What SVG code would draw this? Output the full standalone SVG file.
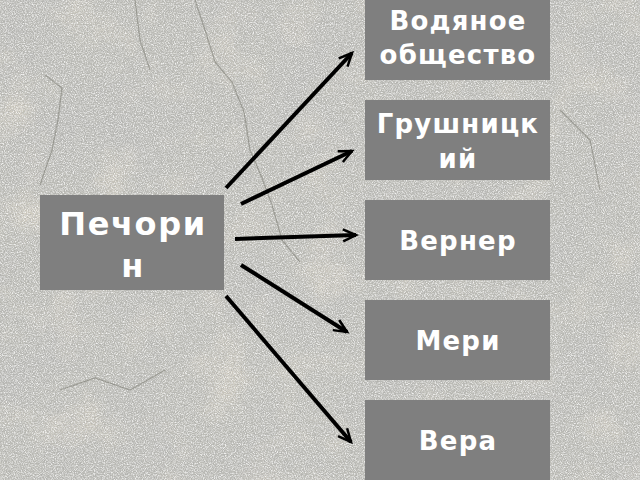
<svg xmlns="http://www.w3.org/2000/svg" width="640" height="480" viewBox="0 0 640 480">
  <defs>
    <filter id="speckle" x="0" y="0" width="100%" height="100%">
      <feTurbulence type="fractalNoise" baseFrequency="0.9" numOctaves="2" seed="7"/>
      <feColorMatrix type="matrix" values="0 0 0 0 1  0 0 0 0 1  0 0 0 0 1  2.6 0 0 0 -1.0"/>
    </filter>
    <filter id="darkspeckle" x="0" y="0" width="100%" height="100%">
      <feTurbulence type="fractalNoise" baseFrequency="0.7" numOctaves="2" seed="21"/>
      <feColorMatrix type="matrix" values="0 0 0 0 0.38  0 0 0 0 0.38  0 0 0 0 0.37  0 2.4 0 0 -1.0"/>
    </filter>
    <filter id="mottle" x="0" y="0" width="100%" height="100%">
      <feTurbulence type="fractalNoise" baseFrequency="0.012" numOctaves="4" seed="11"/>
      <feColorMatrix type="matrix" values="0 0 0 0 0.48  0 0 0 0 0.48  0 0 0 0 0.47  1.3 0 0 0 -0.55"/>
    </filter>
    <filter id="warm" x="0" y="0" width="100%" height="100%">
      <feTurbulence type="fractalNoise" baseFrequency="0.02" numOctaves="3" seed="4"/>
      <feColorMatrix type="matrix" values="0 0 0 0 0.80  0 0 0 0 0.73  0 0 0 0 0.60  0 1.1 0 0 -0.55"/>
    </filter>
    <marker id="arrow" markerUnits="userSpaceOnUse" markerWidth="18" markerHeight="18" refX="14" refY="7" orient="auto" viewBox="0 0 18 14">
      <path d="M1,1 L14,7 L1,13" fill="none" stroke="#000" stroke-width="2.5" stroke-linejoin="miter"/>
    </marker>
    <style>
      .box { fill: #7f7f7f; }
      .lbl { fill: #ffffff; font-family: "DejaVu Sans", "Liberation Sans", sans-serif; font-weight: bold; font-size: 26px; letter-spacing: 1.2px; text-anchor: middle; }
      .big { font-size: 32px; letter-spacing: 1.6px; }
      .conn { stroke: #000; stroke-width: 4; fill: none; marker-end: url(#arrow); }
      .crack { stroke: #78786f; stroke-width: 1.2; fill: none; opacity: 0.55; }
    </style>
  </defs>

  <g id="background">
    <rect x="0" y="0" width="640" height="480" fill="#bcbcb6"/>
    <rect x="0" y="0" width="640" height="480" filter="url(#warm)"/>
    <rect x="0" y="0" width="640" height="480" filter="url(#mottle)"/>
    <rect x="0" y="0" width="640" height="480" filter="url(#speckle)" opacity="0.8"/>
    <rect x="0" y="0" width="640" height="480" filter="url(#darkspeckle)" opacity="0.6"/>
    <path class="crack" d="M195,0 L205,30 L215,62 L232,82 L244,112 L250,150 L262,178 L272,205 L282,240 L300,262"/>
    <path class="crack" d="M45,75 L62,88 L58,120 L52,150 L40,185"/>
    <path class="crack" d="M135,0 L140,40 L150,70"/>
    <path class="crack" d="M60,390 L95,378 L130,390 L165,370"/>
    <path class="crack" d="M560,110 L590,140 L600,190"/>
  </g>

  <g id="connectors">
    <line class="conn" x1="226" y1="188" x2="352" y2="53"/>
    <line class="conn" x1="241" y1="204" x2="352" y2="151"/>
    <line class="conn" x1="235" y1="239" x2="356" y2="235"/>
    <line class="conn" x1="241" y1="265" x2="347" y2="332"/>
    <line class="conn" x1="226" y1="296" x2="351" y2="442"/>
  </g>

  <g id="node-pechorin">
    <rect class="box" x="40" y="195" width="184" height="95"/>
    <text class="lbl big" x="133" y="235">Печори</text>
    <text class="lbl big" x="133" y="277">н</text>
  </g>

  <g id="node-vodyanoe">
    <rect class="box" x="365" y="0" width="185" height="80"/>
    <text class="lbl" x="458" y="30">Водяное</text>
    <text class="lbl" x="458" y="64">общество</text>
  </g>

  <g id="node-grushnitsky">
    <rect class="box" x="365" y="100" width="185" height="80"/>
    <text class="lbl" x="458" y="133">Грушницк</text>
    <text class="lbl" x="458" y="168">ий</text>
  </g>

  <g id="node-verner">
    <rect class="box" x="365" y="200" width="185" height="80"/>
    <text class="lbl" x="458" y="250">Вернер</text>
  </g>

  <g id="node-meri">
    <rect class="box" x="365" y="300" width="185" height="80"/>
    <text class="lbl" x="458" y="350">Мери</text>
  </g>

  <g id="node-vera">
    <rect class="box" x="365" y="400" width="185" height="80"/>
    <text class="lbl" x="458" y="450">Вера</text>
  </g>
</svg>
